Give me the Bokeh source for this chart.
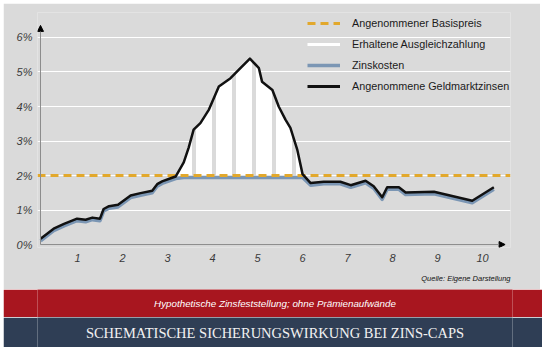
import numpy as np
from bokeh.plotting import figure
from bokeh.layouts import column
from bokeh.models import (ColumnDataSource, FixedTicker, Legend, LegendItem, Label,
                          Arrow, NormalHead, Range1d, Title)
from bokeh.transform import dodge
from bokeh.embed import file_html
from bokeh.resources import INLINE

# ---------------- data ----------------
periods = [0.18, 0.47, 0.70, 0.99, 1.18, 1.33, 1.50, 1.58, 1.70, 1.90, 2.18, 2.40, 2.66,
           2.77, 2.88, 3.07, 3.18, 3.36, 3.47, 3.58, 3.73, 3.92, 4.14, 4.40, 4.58, 4.83,
           5.03, 5.10, 5.33, 5.47, 5.62, 5.73, 5.88, 6.00, 6.18, 6.47, 6.84, 7.07, 7.40,
           7.58, 7.77, 7.88, 8.14, 8.29, 8.92, 9.77, 10.25]
geldmarkt = [0.17, 0.46, 0.60, 0.75, 0.72, 0.78, 0.75, 1.03, 1.11, 1.15, 1.42, 1.49, 1.56,
             1.75, 1.83, 1.92, 1.97, 2.38, 2.81, 3.33, 3.52, 3.91, 4.58, 4.82, 5.06, 5.39,
             5.11, 4.72, 4.48, 4.00, 3.62, 3.38, 2.76, 2.04, 1.78, 1.82, 1.82, 1.72, 1.85,
             1.69, 1.37, 1.66, 1.66, 1.51, 1.53, 1.27, 1.66]
basispreis = 2.0
year_ticks = list(range(1, 11))
pct_ticks = list(range(0, 7))
pct_labels = [f"{t}%" for t in pct_ticks]
legend_labels = ["Angenommener Basispreis", "Erhaltene Ausgleichzahlung",
                 "Zinskosten", "Angenommene Geldmarktzinsen"]
quelle = "Quelle: Eigene Darstellung"
subtitle = "Hypothetische Zinsfeststellung; ohne Prämienaufwände"
title = "SCHEMATISCHE SICHERUNGSWIRKUNG BEI ZINS-CAPS"

# ---------------- style / geometry ----------------
GREY = "#dadada"
GOLD = "#e2a82c"
BLUE = "#7b96b4"
BLACK = "#111111"
AXIS_GREY = "#8c8c8c"
RED = "#a8161f"
DARK = "#2f3e55"
FONT = "Liberation Sans"
X_LO, X_HI = 0.111, 10.62       # frame extent
Y_LO, Y_HI = -0.086, 6.724
X_AXIS, X_ARROW = 0.178, 10.5   # axis position / arrow tip
Y_ARROW = 6.35

geld = np.array(geldmarkt)
src = ColumnDataSource(dict(
    x=periods,
    rate=geldmarkt,
    zins=np.minimum(geld, basispreis),
    top=np.maximum(geld, basispreis),
    base=[basispreis] * len(periods),
))

p = figure(width=537, height=286, x_range=Range1d(X_LO, X_HI), y_range=Range1d(Y_LO, Y_HI),
           output_backend="svg", toolbar_location=None,
           min_border_left=34, min_border_right=30, min_border_top=9, min_border_bottom=40,
           background_fill_color=GREY, border_fill_color=GREY, outline_line_color=None,
           margin=(3, 0, 0, 3))

# axes (labels only; lines drawn as arrows)
p.xaxis.ticker = FixedTicker(ticks=year_ticks)
p.yaxis.ticker = FixedTicker(ticks=pct_ticks)
p.yaxis.major_label_overrides = {t: lab for t, lab in zip(pct_ticks, pct_labels)}
for ax in (p.xaxis[0], p.yaxis[0]):
    ax.axis_line_color = None
    ax.major_tick_in = 0
    ax.major_tick_out = 0
    ax.minor_tick_in = 0
    ax.minor_tick_out = 0
    ax.major_label_text_font = FONT
    ax.major_label_text_font_style = "italic"
    ax.major_label_text_font_size = "11px"
    ax.major_label_text_color = "#3a3a3a"
p.yaxis.major_label_standoff = 5
p.xaxis.major_label_standoff = 6
p.xgrid.visible = False
p.ygrid.ticker = FixedTicker(ticks=pct_ticks[1:])
p.ygrid.grid_line_color = "white"
p.ygrid.grid_line_width = 1

# payoff area (striped white)
p.varea(x="x", y1="base", y2="top", source=src, fill_color="white",
        hatch_pattern="vertical_line", hatch_color=GREY, hatch_weight=4, hatch_scale=20)
# Zinskosten
p.line(x="x", y=dodge("zins", -0.06, range=p.y_range), source=src,
       line_color=BLUE, line_width=3.5, line_join="round")
# Basispreis
p.hspan(y=basispreis, line_color=GOLD, line_width=3, line_dash="8 5")
# Geldmarktzinsen
p.line(x="x", y="rate", source=src, line_color=BLACK, line_width=2.5, line_join="round")

# axis lines with arrow heads
p.add_layout(Arrow(end=NormalHead(size=6, fill_color="black", line_color="black", line_width=1),
                   x_start=X_AXIS, y_start=0, x_end=X_AXIS, y_end=Y_ARROW,
                   line_color=AXIS_GREY, line_width=1))
p.add_layout(Arrow(end=NormalHead(size=6, fill_color="black", line_color="black", line_width=1),
                   x_start=X_AXIS, y_start=0, x_end=X_ARROW, y_end=0,
                   line_color=AXIS_GREY, line_width=1))

# legend (stand-in glyphs)
nan = [float("nan")]
lg_gold = p.line(x=nan, y=nan, line_color=GOLD, line_width=3, line_dash="8 5")
lg_white = p.line(x=nan, y=nan, line_color="white", line_width=3)
lg_blue = p.line(x=nan, y=nan, line_color=BLUE, line_width=3.5)
lg_black = p.line(x=nan, y=nan, line_color=BLACK, line_width=3)
legend = Legend(items=[LegendItem(label=l, renderers=[r]) for l, r in
                       zip(legend_labels, [lg_gold, lg_white, lg_blue, lg_black])],
                location=(270, 151), orientation="vertical",
                glyph_width=33, glyph_height=20, label_height=20, label_standoff=12,
                spacing=1, padding=0, margin=0, border_line_alpha=0, background_fill_alpha=0,
                label_text_font=FONT, label_text_font_size="10.8px", label_text_color="#1a1a1a")
p.add_layout(legend)

p.add_layout(Title(text=quelle, align="right", standoff=14, text_font=FONT,
                   text_font_style="italic", text_font_size="7.5px", text_color="#111111"),
             "below")

# red band
p2 = figure(width=539, height=28, x_range=Range1d(0, 1), y_range=Range1d(0, 1),
            output_backend="svg", toolbar_location=None, x_axis_type=None, y_axis_type=None,
            min_border=0, background_fill_color=RED, border_fill_color=RED,
            outline_line_color=None, margin=(0, 0, 0, 3))
p2.grid.visible = False
p2.add_layout(Label(x=0.5, y=0.5, text=subtitle, text_align="center", text_baseline="middle",
                    text_font=FONT, text_font_style="italic", text_font_size="9.8px",
                    text_color="white"))

# dark band
p3 = figure(width=539, height=30, x_range=Range1d(0, 1), y_range=Range1d(0, 1),
            output_backend="svg", toolbar_location=None, x_axis_type=None, y_axis_type=None,
            min_border=0, background_fill_color=DARK, border_fill_color=DARK,
            outline_line_color=None, margin=(0, 0, 0, 3))
p3.grid.visible = False
p3.add_layout(Label(x=0.5, y=0.5, text=title, text_align="center", text_baseline="middle",
                    text_font="Liberation Serif", text_font_size="14.5px",
                    text_color="#f2f2f2"))

layout = column(p, p2, p3, spacing=0)
open("out.html", "w").write(file_html(layout, INLINE))
